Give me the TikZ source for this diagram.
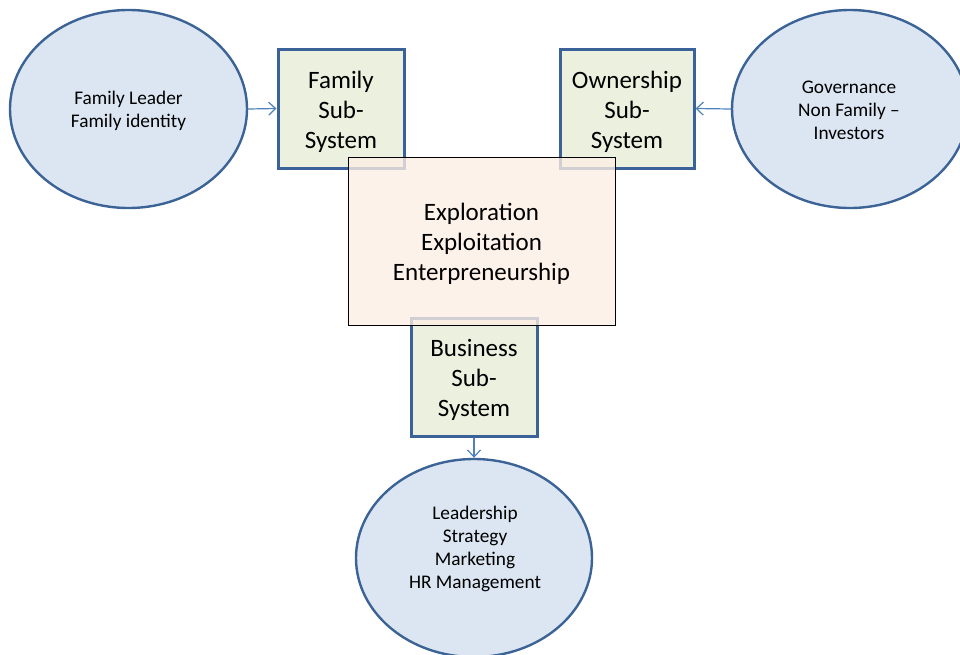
\documentclass[tikz,border=0pt]{standalone}
\usepackage{fontspec}
\setmainfont{Carlito}
\usetikzlibrary{shapes.geometric,arrows.meta}
\definecolor{ovalfill}{HTML}{DCE6F2}
\definecolor{ovaledge}{HTML}{3C6396}
\definecolor{boxfill}{HTML}{EBF1DE}
\definecolor{boxedge}{HTML}{3A6198}
\definecolor{corefill}{HTML}{FCEEE4}
\definecolor{linkcol}{HTML}{4F81BD}
\tikzset{
  oval/.style={ellipse, draw=ovaledge, fill=ovalfill, line width=2.4pt, inner sep=0pt},
  ovaltext/.style={align=center, font=\fontsize{19.3}{23}\selectfont, inner sep=0pt},
  bigtext/.style={align=center, font=\fontsize{25}{30}\selectfont, inner sep=0pt, yshift=-3pt},
  subbox/.style={rectangle, draw=boxedge, fill=boxfill, line width=3pt, inner sep=0pt,
    minimum width=126pt, minimum height=119pt},
  corebox/.style={rectangle, draw=black, fill=corefill, fill opacity=0.78,
    line width=0.9pt, inner sep=0pt},
  link/.style={draw=linkcol, line width=1.2pt, -{Straight Barb[length=7pt,width=13pt,line width=1.2pt]}}
}
\begin{document}
\begin{tikzpicture}[x=1pt,y=-1pt]
  \useasboundingbox (0,0) rectangle (960,654);
  \clip (0,0) rectangle (960,654);

  % surrounding ovals
  \node[oval, minimum width=237pt, minimum height=198pt] (lf) at (128.5,109) {};
  \node[ovaltext] (lft) at (128.5,111) {Family Leader\\Family identity};
  \node[oval, minimum width=236pt, minimum height=198pt] (rg) at (850,109) {};
  \node[ovaltext] (rgt) at (849,110) {Governance\\Non Family --\\Investors};
  \node[oval, minimum width=236pt, minimum height=198pt] (bl) at (474,558) {};
  \node[ovaltext] (blt) at (475,549) {Leadership\\Strategy\\Marketing\\HR Management};

  % sub-system boxes
  \node[subbox, label={[bigtext]center:Family\\Sub-\\System}] (fam) at (341,108.5) {};
  \node[subbox, minimum width=134pt, label={[bigtext]center:Ownership\\Sub-\\System}] (own) at (627,108.5) {};
  \node[subbox, minimum height=118pt, label={[bigtext]center:Business\\Sub-\\System}] (bus) at (474,377) {};

  % core activities, laid over the three boxes
  \node[corebox, minimum width=267pt, minimum height=168pt,
    label={[bigtext]center:Exploration\\Exploitation\\Enterpreneurship}] (core) at (481.5,241) {};

  % links
  \draw[link] (lf.east) -- (fam.west);
  \draw[link] (rg.west) -- (own.east);
  \draw[link] (bus.south) -- (bl.north);
\end{tikzpicture}
\end{document}
